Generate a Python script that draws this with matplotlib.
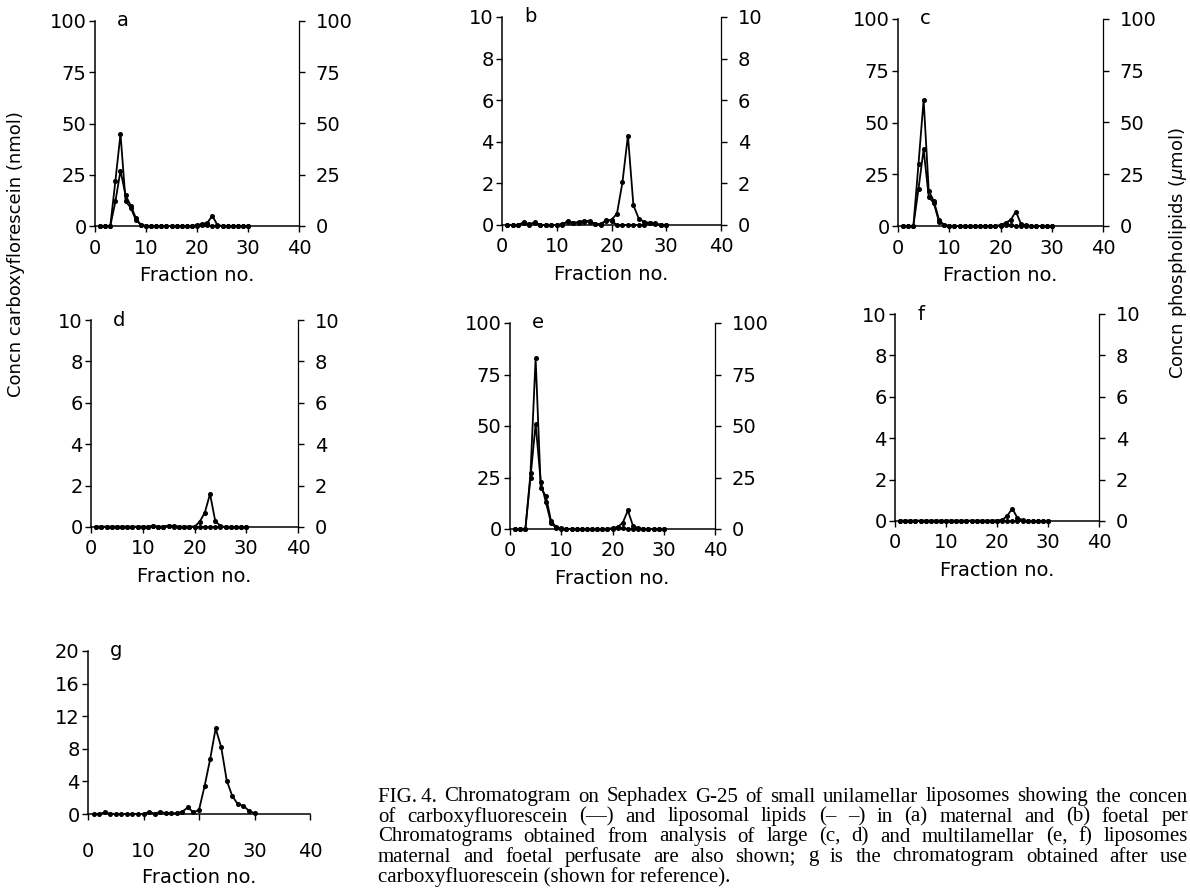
import matplotlib.pyplot as plt

# fractions 1..30
fractions = list(range(1, 31))

# carboxyfluorescein (solid) and liposomal lipids (dashed) per panel
cf_a = [0, 0, 0, 22, 45, 12, 9, 3, 0.5, 0, 0, 0, 0, 0, 0, 0, 0, 0, 0, 0.5,
        1, 1.5, 5, 0.5, 0, 0, 0, 0, 0, 0]
lip_a = [0, 0, 0, 12, 27, 15, 10, 4, 0.5, 0, 0, 0, 0, 0, 0, 0, 0, 0, 0, 0,
         0.5, 0.5, 0, 0, 0, 0, 0, 0, 0, 0]

cf_b = [0, 0, 0, 0.1, 0.05, 0.1, 0, 0, 0, 0, 0.05, 0.15, 0.1, 0.1, 0.15, 0.15,
        0.05, 0.05, 0.2, 0.25, 0.55, 2.05, 4.3, 0.95, 0.3, 0.15, 0.1, 0.05, 0, 0]
lip_b = [0, 0, 0, 0.15, 0, 0.15, 0, 0, 0, 0, 0, 0.2, 0.1, 0.15, 0.2, 0.2,
         0.05, 0, 0.25, 0.2, 0, 0, 0, 0, 0, 0, 0.1, 0.1, 0, 0]

cf_c = [0, 0, 0, 30, 61, 17, 12, 3, 0.5, 0, 0, 0, 0, 0, 0, 0, 0, 0, 0, 0.5,
        1.5, 3, 7, 1, 0.3, 0, 0, 0, 0, 0]
lip_c = [0, 0, 0, 18, 37, 14, 11, 2, 0.3, 0, 0, 0, 0, 0, 0, 0, 0, 0, 0, 0,
         0.5, 0.5, 0, 0, 0, 0, 0, 0, 0, 0]

cf_d = [0, 0, 0, 0, 0, 0, 0, 0, 0, 0, 0, 0.05, 0, 0, 0.05, 0, 0, 0, 0, 0.02,
        0.25, 0.7, 1.6, 0.3, 0.05, 0, 0, 0, 0, 0]
lip_d = [0.02, 0.02, 0.02, 0.02, 0.02, 0.02, 0.02, 0.02, 0.02, 0.02, 0.02, 0.05,
         0.02, 0.02, 0.07, 0.05, 0.02, 0.02, 0.02, 0.02, 0, 0, 0, 0, 0, 0, 0, 0, 0, 0]

cf_e = [0, 0, 0, 27, 83, 20, 16, 4, 1, 0.3, 0, 0, 0, 0, 0, 0, 0, 0, 0, 0.5,
        1, 3, 9, 1.5, 0.5, 0, 0, 0, 0, 0]
lip_e = [0, 0, 0, 25, 51, 23, 13, 3, 0.5, 0, 0, 0, 0, 0, 0, 0, 0, 0, 0, 0,
         0.5, 0.5, 0, 0, 0, 0, 0, 0, 0, 0]

cf_f = [0, 0, 0, 0, 0, 0, 0, 0, 0, 0, 0, 0, 0, 0, 0, 0, 0, 0, 0, 0.02,
        0.05, 0.25, 0.6, 0.15, 0.05, 0, 0, 0, 0, 0]
lip_f = [0.02] * 20 + [0, 0, 0, 0, 0, 0, 0, 0, 0, 0]

cf_g = [0, 0, 0.2, 0.05, 0, 0, 0, 0, 0, 0, 0.25, 0.05, 0.25, 0.1, 0.1, 0.1,
        0.3, 0.8, 0.2, 0.5, 3.4, 6.7, 10.5, 8.2, 4.1, 2.2, 1.2, 1.0, 0.4, 0.1]

ticks_100 = [0, 25, 50, 75, 100]
ticks_10 = [0, 2, 4, 6, 8, 10]
ticks_20 = [0, 4, 8, 12, 16, 20]
xticks = [0, 10, 20, 30, 40]

caption = [
    "FIG.\u20094.   Chromatogram on Sephadex G-25 of small unilamellar liposomes showing the concen",
    "of carboxyfluorescein (\u2014) and liposomal lipids (\u2013 \u2013) in (a) maternal and (b) foetal per",
    "Chromatograms obtained from analysis of large (c, d) and multilamellar (e, f) liposomes",
    "maternal and foetal perfusate are also shown; g is the chromatogram obtained after use",
    "carboxyfluorescein (shown for reference).",
]

plt.rcParams['font.family'] = 'DejaVu Sans'
W, H = 1190, 890
fig = plt.figure(figsize=(11.9, 8.9), dpi=100)


def rect(x0, y0, x1, y1):
    return [x0 / W, 1 - y1 / H, (x1 - x0) / W, (y1 - y0) / H]


def panel(box, letter, series, ymax, yticks, right=True, xpad=5, lpad=6):
    ax = fig.add_axes(rect(*box))
    for s in series:
        ax.plot(fractions, s, color="black", lw=1.3, marker="o", ms=2.6,
                clip_on=False, zorder=3)
    ax.set_xlim(0, 40)
    ax.set_ylim(0, ymax)
    ax.set_xticks(xticks)
    ax.set_yticks(yticks)
    ax.spines["top"].set_visible(False)
    ax.spines["right"].set_visible(False)
    for sp in ["left", "bottom"]:
        ax.spines[sp].set_linewidth(1.1)
    ax.tick_params(axis="y", direction="out", length=4, width=1, pad=2, labelsize=14)
    ax.tick_params(axis="x", direction="out", length=4, width=1, pad=xpad, labelsize=14)
    ax.set_xlabel("Fraction no.", fontsize=14, labelpad=lpad)
    wpx = box[2] - box[0]
    ax.text(22 / wpx, 1.0, letter, transform=ax.transAxes, fontsize=14,
            va="center", ha="left")
    if right:
        ax2 = ax.twinx()
        ax2.set_ylim(0, ymax)
        ax2.set_yticks(yticks)
        for sp in ["top", "left", "bottom"]:
            ax2.spines[sp].set_visible(False)
        ax2.spines["right"].set_linewidth(0.9)
        ax2.tick_params(axis="y", direction="out", length=4, width=1, pad=8, labelsize=14)
    return ax


panel((95, 21, 299, 226), "a", [cf_a, lip_a], 100, ticks_100)
panel((502, 17, 721, 225), "b", [cf_b, lip_b], 10, ticks_10)
panel((898, 19, 1103, 226), "c", [cf_c, lip_c], 100, ticks_100)
panel((91, 320, 298, 527), "d", [cf_d, lip_d], 10, ticks_10)
panel((510, 323, 715, 529), "e", [cf_e, lip_e], 100, ticks_100)
panel((895, 314, 1099, 521), "f", [cf_f, lip_f], 10, ticks_10)
panel((88, 651, 310, 814), "g", [cf_g], 20, ticks_20, right=False, xpad=16, lpad=5)

fig.text(16 / W, 1 - 254 / H, "Concn carboxyflorescein (nmol)", rotation=90,
         fontsize=13, ha="center", va="center")
fig.text(1178 / W, 1 - 253 / H, "Concn phospholipids ($\\mu$mol)", rotation=90,
         fontsize=13, ha="center", va="center")

# justified caption lines, cut at the right edge like the scan
renderer = fig.canvas.get_renderer()
x0, x1 = 378, 1188
for i, line in enumerate(caption):
    y = 1 - (797 + 20 * i) / H
    words = [w for w in line.split(" ") if w != ""]
    if i == 4:
        fig.text(x0 / W, y, line, fontsize=15, family="Liberation Serif", va="center")
        continue
    objs = []
    total = 0
    for w in words:
        t = fig.text(0, y, w, fontsize=15, family="Liberation Serif", va="center")
        wd = t.get_window_extent(renderer).width
        objs.append((t, wd))
        total += wd
    gap = (x1 - x0 - total) / (len(words) - 1)
    x = x0
    for t, wd in objs:
        t.set_x(x / W)
        x += wd + gap

fig.savefig("out.png", dpi=100)
